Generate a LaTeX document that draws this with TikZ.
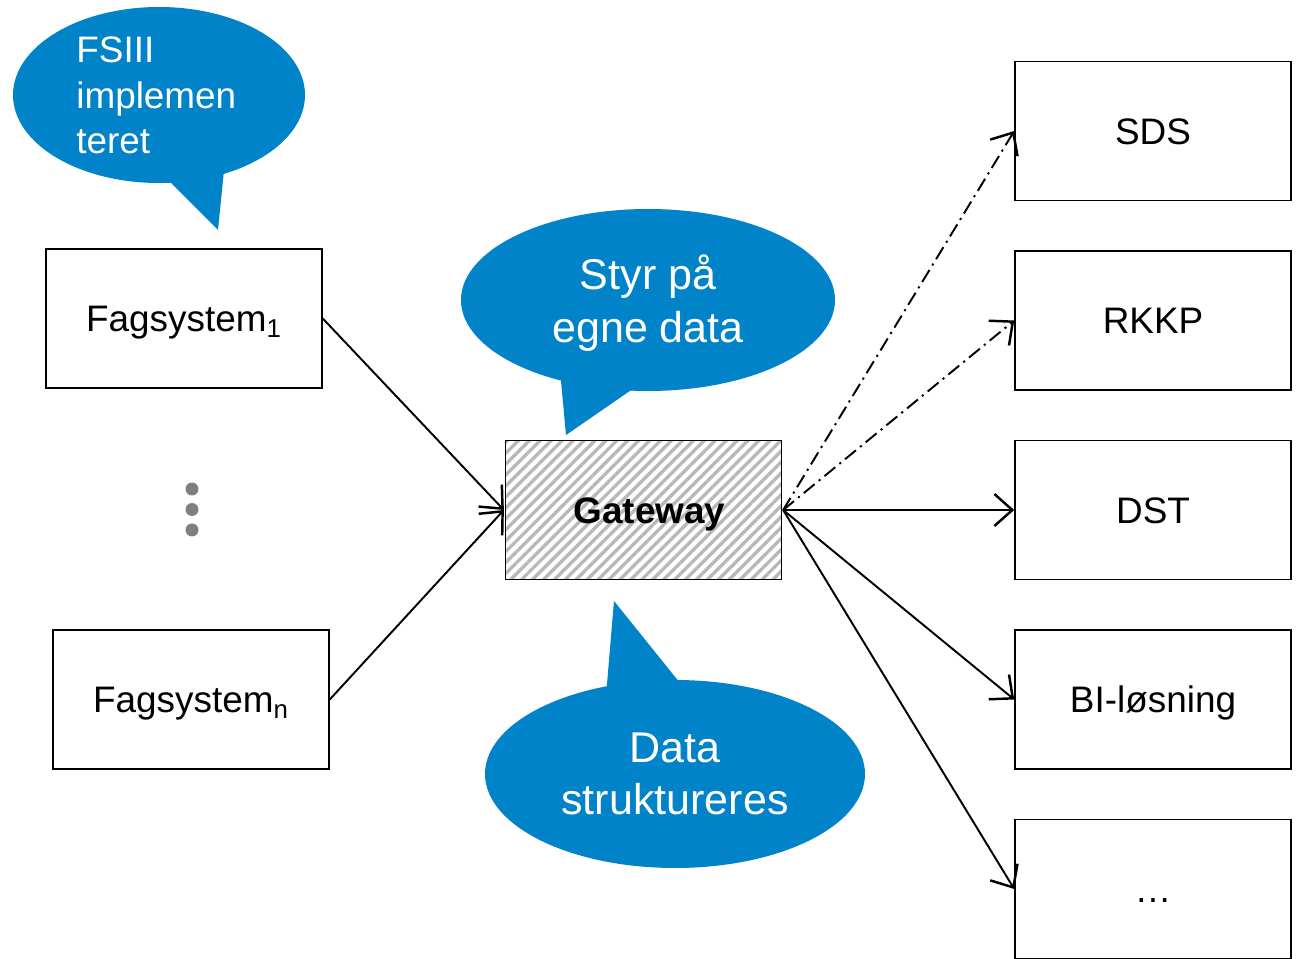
\documentclass[tikz,border=0pt]{standalone}
\usepackage{fontspec}
\setmainfont{Liberation Sans}
\usetikzlibrary{arrows.meta,patterns.meta}
\definecolor{bubble}{HTML}{0083C9}
\definecolor{hatch}{HTML}{B8B8B8}
\definecolor{dotgray}{HTML}{7F7F7F}
\tikzset{
  box/.style={draw=black,line width=0.9pt,minimum width=5.52cm,minimum height=2.78cm,inner sep=0pt,text height=16.5pt,text depth=1.5pt,font=\fontsize{21}{25}\selectfont},
  conn/.style={line width=1.1pt,-{Straight Barb[length=3.6mm,width=6.4mm,line width=1.4pt]}},
  dashdot/.style={dash pattern=on 8pt off 3pt on 1.2pt off 3pt},
  bub/.style={fill=bubble,draw=none},
  bubtext/.style={text=white,inner sep=0pt},
  vdot/.style={circle,fill=dotgray,minimum size=0.26cm,inner sep=0pt}
}
\begin{document}
\begin{tikzpicture}[x=0.02cm,y=-0.02cm]
\useasboundingbox (0,0) rectangle (1296,959);
% speech bubbles
\fill[bub] (159,95) ellipse [x radius=146, y radius=88];
\fill[bub] (166,178) -- (218,230) -- (224,170) -- cycle;
\node[bubtext,align=left,anchor=west,font=\fontsize{21}{26}\selectfont] (t1) at (76,95.5) {FSIII\\implemen\\teret};

\fill[bub] (648,300) ellipse [x radius=187, y radius=91];
\fill[bub] (560,370) -- (566,435) -- (640,384) -- cycle;
\node[bubtext,align=center,font=\fontsize{24.5}{30}\selectfont] (t2) at (648,303) {Styr på\\egne data};

\fill[bub] (675,774) ellipse [x radius=190, y radius=94];
\fill[bub] (606,696) -- (614,601) -- (684,688) -- cycle;
\node[bubtext,align=center,font=\fontsize{24.5}{30}\selectfont] (t3) at (675,774) {Data\\struktureres};

% boxes
\node[box] (f1) at (184,318.5) {Fagsystem\textsubscript{1}};
\node[box] (fn) at (191,699.5) {Fagsystem\textsubscript{n}};
\node[box,pattern={Lines[angle=45,distance=4.4pt,line width=1.9pt]},pattern color=hatch,
  label={[font=\fontsize{21}{25}\selectfont\bfseries,inner sep=0pt,text height=16.5pt,text depth=1.5pt,xshift=0.12cm]center:Gateway}] (gw) at (643.5,510) {};
\node[box] (sds) at (1153,131) {SDS};
\node[box] (rkkp) at (1153,320.5) {RKKP};
\node[box] (dst) at (1153,510) {DST};
\node[box] (bi) at (1153,699.5) {BI-løsning};
\node[box] (etc) at (1153,889) {…};

% dots
\node[vdot] (d1) at (192,489) {};
\node[vdot] (d2) at (192,509.5) {};
\node[vdot] (d3) at (192,530) {};

% connectors
\draw[conn] (f1.east) -- (gw.west);
\draw[conn] (fn.east) -- (gw.west);
\draw[conn,dashdot] (gw.east) -- (sds.west);
\draw[conn,dashdot] (gw.east) -- (rkkp.west);
\draw[conn] (gw.east) -- (dst.west);
\draw[conn] (gw.east) -- (bi.west);
\draw[conn] (gw.east) -- (etc.west);
\end{tikzpicture}
\end{document}
